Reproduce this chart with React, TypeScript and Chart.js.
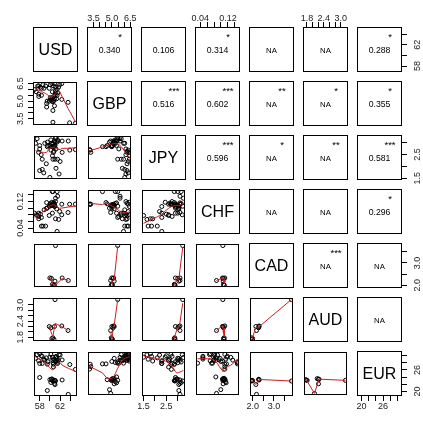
import React, { useEffect, useRef } from 'react';
import { Chart, registerables } from 'chart.js';

Chart.register(...registerables);

const FONT = '"Liberation Sans", Arial, Helvetica, sans-serif';

// ---------------- data ----------------
const VARIABLES = ['USD', 'GBP', 'JPY', 'CHF', 'CAD', 'AUD', 'EUR'];

const USD = [57.2, 57.5, 57.8, 58.0, 58.3, 59.0, 59.6, 60.2, 60.5, 60.8, 61.0, 61.2, 61.4, 61.6, 62.0, 60.6, 61.2, 61.5,
  58.0, 58.5, 58.8, 60.0, 61.2, 61.8, 58.5, 60.6, 59.3, 61.5, 62.4, 63.9, 65.0, 60.7, 60.7, 59.5,
  60.2, 60.4, 60.9, 58.0, 59.5, 61.0, 60.0, 60.3, 60.5, 60.7, 61.0, 61.1, 60.9, 62.4, 63.6];
const GBP = [6.0, 5.8, 6.3, 5.6, 6.2, 6.1, 5.0, 6.4, 6.5, 6.3, 6.5, 6.2, 5.2, 5.7, 6.4, 5.3, 5.7, 5.5,
  6.3, 6.1, 6.4, 6.1, 5.9, 6.2, 5.5, 5.8, 6.3, 6.0, 6.5, 3.15, 3.1, 3.2, 4.2, 4.5,
  5.3, 5.2, 5.4, 5.4, 4.8, 4.6, 5.0, 5.1, 5.0, 4.95, 5.2, 5.5, 5.05, 5.15, 4.9];
const JPY = [3.0, 3.2, 2.6, 2.75, 2.5, 3.0, 2.9, 2.7, 2.45, 2.65, 2.3, 2.75, 3.05, 3.1, 2.2, 3.0, 3.25, 3.15,
  1.8, 1.85, 1.7, 1.5, 1.9, 1.65, 2.3, 2.3, 2.1, 2.3, 2.6, 2.7, 2.72, 2.6, 2.85, 2.85,
  3.15, 2.95, 3.1, 2.9, 3.05, 2.9, 2.9, 3.0, 2.85, 2.87, 3.05, 3.22, 2.88, 3.1, 3.1];
const CHF = [0.085, 0.08, 0.078, 0.075, 0.082, 0.095, 0.1, 0.112, 0.118, 0.115, 0.105, 0.12, 0.098, 0.136, 0.09, 0.15, 0.13, 0.15,
  0.068, 0.046, 0.046, 0.078, 0.068, 0.066, 0.072, 0.085, 0.046, 0.03, 0.08, 0.112, 0.112, 0.112, 0.15, 0.117,
  0.114, 0.11, 0.116, 0.085, 0.1, 0.113, 0.105, 0.108, 0.108, 0.11, 0.107, 0.106, 0.11, 0.112, 0.087];
const CAD = [null, null, null, null, null, null, null, null, null, null, null, null, null, null, null, null, null, null,
  null, null, null, null, null, null, null, null, null, null, null, null, null, null, null, null,
  null, null, null, null, null, null, 2.3, 2.28, 2.0, 1.95, 2.15, 3.82, 1.97, 2.3, 2.18];
const AUD = [null, null, null, null, null, null, null, null, null, null, null, null, null, null, null, null, null, null,
  null, null, null, null, null, null, null, null, null, null, null, null, null, null, null, null,
  null, null, null, null, null, null, 2.2, 2.15, 1.75, 1.78, 2.2, 3.2, 1.72, 2.22, 2.05];
const EUR = [29.5, 30.5, 28.8, 28.0, 30.2, 29.0, 28.5, 30.6, 29.8, 29.2, 28.6, 30.0, 29.4, 28.9, 30.4, 28.2, 29.7, 28.4,
  30.8, 30.0, 29.2, 29.8, 28.7, 30.5, 28.0, 28.8, 29.6, 28.0, 29.0, 27.7, 26.3, 27.0, 27.8, 27.8,
  22.6, 23.6, 22.3, 24.0, 20.3, 23.2, 23.4, 23.5, 23.1, 23.0, 22.0, 23.0, 23.2, 23.3, 19.2];

const SERIES: (number | null)[][] = [USD, GBP, JPY, CHF, CAD, AUD, EUR];

// axis ticks (R pretty) and which of them carry a label
const USD_TICKS = [58, 60, 62, 64];
const USD_TICK_LABELS = ['58', '', '62', ''];
const GBP_TICKS = [3.5, 4.0, 4.5, 5.0, 5.5, 6.0, 6.5];
const GBP_TICK_LABELS = ['3.5', '', '', '5.0', '', '', '6.5'];
const JPY_TICKS = [1.5, 2.0, 2.5, 3.0];
const JPY_TICK_LABELS = ['1.5', '', '2.5', ''];
const CHF_TICKS = [0.04, 0.06, 0.08, 0.1, 0.12, 0.14];
const CHF_TICK_LABELS = ['0.04', '', '', '', '0.12', ''];
const CAD_TICKS = [2.0, 2.5, 3.0, 3.5];
const CAD_TICK_LABELS = ['2.0', '', '3.0', ''];
const AUD_TICKS = [1.8, 2.0, 2.2, 2.4, 2.6, 2.8, 3.0];
const AUD_TICK_LABELS = ['1.8', '', '', '2.4', '', '', '3.0'];
const EUR_TICKS = [20, 22, 24, 26, 28, 30];
const EUR_TICK_LABELS = ['20', '', '', '26', '', ''];

const TICKS = [USD_TICKS, GBP_TICKS, JPY_TICKS, CHF_TICKS, CAD_TICKS, AUD_TICKS, EUR_TICKS];
const TICK_LABELS = [USD_TICK_LABELS, GBP_TICK_LABELS, JPY_TICK_LABELS, CHF_TICK_LABELS, CAD_TICK_LABELS, AUD_TICK_LABELS, EUR_TICK_LABELS];

// upper-triangle correlation text and significance stars
const CORR_TEXT = [
  ['', '0.340', '0.106', '0.314', 'NA', 'NA', '0.288'],
  ['', '', '0.516', '0.602', 'NA', 'NA', '0.355'],
  ['', '', '', '0.596', 'NA', 'NA', '0.581'],
  ['', '', '', '', 'NA', 'NA', '0.296'],
  ['', '', '', '', '', 'NA', 'NA'],
  ['', '', '', '', '', '', 'NA'],
];
const CORR_STARS = [
  ['', '*', '', '*', '', '', '*'],
  ['', '', '***', '***', '**', '*', '*'],
  ['', '', '', '***', '*', '**', '***'],
  ['', '', '', '', '', '', '*'],
  ['', '', '', '', '', '***', ''],
  ['', '', '', '', '', '', ''],
];

// ---------------- layout ----------------
const PAGE_W = 423;
const PAGE_H = 422;
const GRID_LEFT = 33;
const GRID_TOP = 27;
const PITCH = 54;
const BOX = 45;
const MARGIN = 4;
const TICK_FONT = 9;
const TICK_LEN = 5;

function paddedRange(vals: (number | null)[]): [number, number] {
  const v = vals.filter((x) => x !== null) as number[];
  const lo = Math.min(...v);
  const hi = Math.max(...v);
  const d = (hi - lo) * 0.04;
  return [lo - d, hi + d];
}
const RANGES = SERIES.map(paddedRange);

const measureCtx = (() => {
  const c = document.createElement('canvas');
  return c.getContext('2d') as CanvasRenderingContext2D;
})();
function widestLabel(labels: string[]) {
  measureCtx.font = `${TICK_FONT}px ${FONT}`;
  return Math.max(...labels.map((l) => measureCtx.measureText(l).width));
}

// R lowess (clowess) as used by panel.smooth
function lowess(xIn: number[], yIn: number[], f = 2 / 3, nsteps = 3) {
  const n = xIn.length;
  const order = xIn.map((_, i) => i).sort((a, b) => xIn[a] - xIn[b] || a - b);
  const x = order.map((i) => xIn[i]);
  const y = order.map((i) => yIn[i]);
  const ns = Math.max(2, Math.min(n, Math.floor(f * n + 1e-7)));
  const range = x[n - 1] - x[0];
  const rw = new Array(n).fill(1);
  const ys = new Array(n).fill(0);
  const w = new Array(n).fill(0);
  for (let iter = 1; iter <= nsteps + 1; iter++) {
    let nleft = 0;
    let nright = ns - 1;
    for (let i = 0; i < n; i++) {
      while (nright < n - 1 && x[i] - x[nleft] > x[nright + 1] - x[i]) {
        nleft++;
        nright++;
      }
      const xs = x[i];
      const h = Math.max(xs - x[nleft], x[nright] - xs);
      const h9 = 0.999 * h;
      const h1 = 0.001 * h;
      let a = 0;
      let j = nleft;
      while (j < n) {
        w[j] = 0;
        const r = Math.abs(x[j] - xs);
        if (r <= h9) {
          w[j] = r <= h1 ? 1 : Math.pow(1 - Math.pow(r / h, 3), 3);
          if (iter > 1) w[j] *= rw[j];
          a += w[j];
        } else if (x[j] > xs) break;
        j++;
      }
      const nrt = j - 1;
      if (a <= 0) {
        ys[i] = y[i];
      } else {
        for (let k = nleft; k <= nrt; k++) w[k] /= a;
        if (h > 0) {
          let m = 0;
          for (let k = nleft; k <= nrt; k++) m += w[k] * x[k];
          let b = xs - m;
          let c = 0;
          for (let k = nleft; k <= nrt; k++) c += w[k] * (x[k] - m) * (x[k] - m);
          if (Math.sqrt(c) > 0.001 * range) {
            b /= c;
            for (let k = nleft; k <= nrt; k++) w[k] *= b * (x[k] - m) + 1;
          }
        }
        let s = 0;
        for (let k = nleft; k <= nrt; k++) s += w[k] * y[k];
        ys[i] = s;
      }
    }
    if (iter > nsteps) break;
    const res = y.map((v, i) => v - ys[i]);
    const sc = res.reduce((s, v) => s + Math.abs(v), 0) / n;
    const sorted = res.map(Math.abs).sort((p, q) => p - q);
    const m1 = Math.floor(n / 2);
    const cmad = n % 2 === 0 ? 3 * (sorted[m1] + sorted[n - m1 - 1]) : 6 * sorted[m1];
    if (cmad < 1e-7 * sc) break;
    for (let i = 0; i < n; i++) {
      const r = Math.abs(res[i]);
      if (r <= 0.001 * cmad) rw[i] = 1;
      else if (r <= 0.999 * cmad) rw[i] = Math.pow(1 - Math.pow(r / cmad, 2), 2);
      else rw[i] = 0;
    }
  }
  return x.map((v, i) => ({ x: v, y: ys[i] }));
}

function axisScale(v: number, pos: string, show: boolean, size: number) {
  const [min, max] = RANGES[v];
  const ticks = TICKS[v];
  const labels = TICK_LABELS[v];
  const horizontal = pos === 'top' || pos === 'bottom';
  const widest = widestLabel(labels);
  let padding = 3;
  if (pos === 'top') padding = 14 - TICK_LEN - TICK_FONT * 0.6;
  if (pos === 'bottom') padding = 15.5 - TICK_LEN - TICK_FONT * 0.6;
  if (pos === 'left') padding = 12.5 - TICK_LEN - widest / 2;
  if (pos === 'right') padding = 16 - TICK_LEN - widest / 2;
  return {
    type: 'linear',
    position: pos,
    min,
    max,
    display: show,
    afterBuildTicks: (s: any) => {
      s.ticks = ticks.map((t) => ({ value: t }));
    },
    afterFit: (s: any) => {
      if (!show) return;
      if (horizontal) s.height = size;
      else s.width = size;
      s.paddingLeft = 0;
      s.paddingRight = 0;
      s.paddingTop = 0;
      s.paddingBottom = 0;
    },
    ticks: {
      autoSkip: false,
      minRotation: horizontal ? 0 : 90,
      maxRotation: horizontal ? 0 : 90,
      crossAlign: 'center',
      padding,
      color: '#222',
      font: { family: FONT, size: TICK_FONT },
      callback: (_val: any, i: number) => labels[i],
    },
    grid: {
      display: true,
      drawOnChartArea: false,
      drawTicks: true,
      tickLength: TICK_LEN,
      tickColor: '#000',
      tickWidth: 1,
      color: '#000',
      lineWidth: 1,
    },
    border: { display: false },
  };
}

const panelDecor = {
  id: 'panelDecor',
  afterDraw(chart: any, _args: any, opts: any) {
    const { ctx, chartArea: a } = chart;
    ctx.save();
    ctx.strokeStyle = '#000';
    ctx.lineWidth = 1;
    ctx.strokeRect(a.left + 0.5, a.top + 0.5, a.right - a.left - 1, a.bottom - a.top - 1);
    ctx.fillStyle = '#000';
    ctx.textAlign = 'center';
    ctx.textBaseline = 'middle';
    const cx = (a.left + a.right) / 2;
    const cy = (a.top + a.bottom) / 2;
    if (opts.label) {
      ctx.font = `${opts.labelSize}px ${FONT}`;
      ctx.fillText(opts.label, cx, cy + 1.5);
    }
    if (opts.stars) {
      ctx.font = `9.5px ${FONT}`;
      ctx.fillText(opts.stars, a.left + 33, a.top + 10);
    }
    ctx.restore();
  },
};

function Panel({ r, c }: { r: number; c: number }) {
  const ref = useRef<HTMLCanvasElement>(null);
  const L = GRID_LEFT + c * PITCH;
  const T = GRID_TOP + r * PITCH;
  const hasTop = r === 0 && c % 2 === 1;
  const hasBottom = r === 6 && c % 2 === 0;
  const hasLeft = c === 0 && r % 2 === 1;
  const hasRight = c === 6 && r % 2 === 0;
  const x0 = hasLeft ? 0 : L - MARGIN;
  const x1 = hasRight ? PAGE_W : L + BOX + MARGIN;
  const y0 = hasTop ? 0 : T - MARGIN;
  const y1 = hasBottom ? PAGE_H : T + BOX + MARGIN;
  const w = x1 - x0;
  const h = y1 - y0;

  useEffect(() => {
    const canvas = ref.current;
    if (!canvas) return;
    const datasets: any[] = [];
    let decor: any = {};
    if (r > c) {
      const xs: number[] = [];
      const ys: number[] = [];
      SERIES[c].forEach((xv, i) => {
        const yv = SERIES[r][i];
        if (xv !== null && yv !== null) {
          xs.push(xv);
          ys.push(yv);
        }
      });
      datasets.push({
        type: 'scatter',
        data: lowess(xs, ys),
        showLine: true,
        borderColor: 'rgb(205,30,30)',
        borderWidth: 1,
        pointRadius: 0,
        tension: 0,
      });
      datasets.push({
        type: 'scatter',
        data: xs.map((xv, i) => ({ x: xv, y: ys[i] })),
        pointRadius: 2,
        pointBorderWidth: 1,
        pointBorderColor: '#000',
        pointBackgroundColor: 'rgba(0,0,0,0)',
        showLine: false,
      });
    } else if (r === c) {
      decor = { label: VARIABLES[r], labelSize: 16 };
    } else {
      const txt = CORR_TEXT[r][c];
      decor = { label: txt, labelSize: txt === 'NA' ? 7.8 : 8.7, stars: CORR_STARS[r][c] };
    }
    const chart = new Chart(canvas, {
      type: 'scatter',
      data: { datasets },
      options: {
        responsive: false,
        animation: false,
        devicePixelRatio: 1,
        events: [],
        layout: {
          padding: {
            left: hasLeft ? 0 : MARGIN,
            right: hasRight ? 0 : MARGIN,
            top: hasTop ? 0 : MARGIN,
            bottom: hasBottom ? 0 : MARGIN,
          },
        },
        scales: {
          x: axisScale(c, hasTop ? 'top' : 'bottom', hasTop || hasBottom, hasTop ? T : PAGE_H - (T + BOX)),
          y: axisScale(r, hasLeft ? 'left' : 'right', hasLeft || hasRight, hasLeft ? L : PAGE_W - (L + BOX)),
        },
        plugins: {
          legend: { display: false },
          tooltip: { enabled: false },
          panelDecor: decor,
        },
      } as any,
      plugins: [panelDecor],
    });
    return () => chart.destroy();
  }, []);

  return (
    <canvas
      ref={ref}
      width={w}
      height={h}
      style={{ position: 'absolute', left: x0, top: y0, width: w, height: h }}
    />
  );
}

export default function App() {
  const panels = [];
  for (let r = 0; r < 7; r++) {
    for (let c = 0; c < 7; c++) {
      panels.push(<Panel key={`${r}-${c}`} r={r} c={c} />);
    }
  }
  return (
    <div style={{ position: 'absolute', left: 0, top: 0, width: PAGE_W, height: PAGE_H, overflow: 'hidden', background: '#fff' }}>
      {panels}
    </div>
  );
}
